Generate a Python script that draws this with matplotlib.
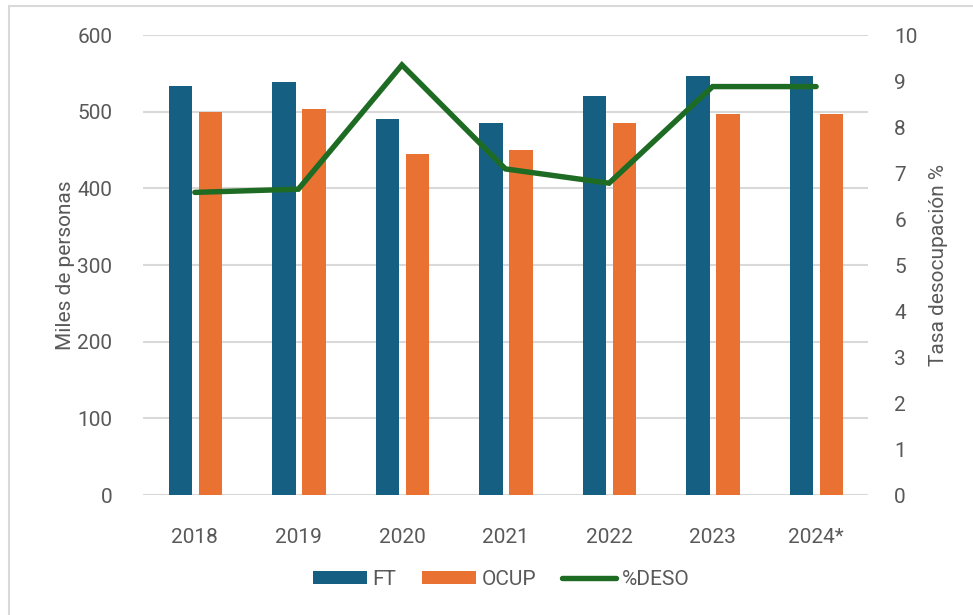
import matplotlib
matplotlib.use("Agg")
import matplotlib.pyplot as plt
import numpy as np
from matplotlib.patches import Rectangle

years = ["2018", "2019", "2020", "2021", "2022", "2023", "2024*"]
ft = [534, 539, 490, 485, 521, 546, 546]
ocup = [499, 503, 445, 450, 485, 497, 497]
deso = [6.58, 6.65, 9.35, 7.09, 6.78, 8.88, 8.88]

plt.rcParams['font.family'] = ['Roboto', 'DejaVu Sans']
gray = '#595959'
grid = '#d9d9d9'

fig = plt.figure(figsize=(9.73, 6.15), dpi=100)
ax = fig.add_axes([0.147, 0.195, 0.745, 0.748])
ax2 = ax.twinx()

x = np.arange(len(years))
w = 0.225
b1 = ax.bar(x - 0.14, ft, w, color='#156082', label='FT', zorder=2)
b2 = ax.bar(x + 0.15, ocup, w, color='#e97132', label='OCUP', zorder=2)
l1, = ax2.plot(x, deso, color='#1e6b24', lw=3.9, solid_capstyle='round',
               solid_joinstyle='miter', label='%DESO', zorder=3)

ax.set_xlim(-0.5, 6.5)
ax.set_ylim(0, 600)
ax.set_yticks(range(0, 601, 100))
ax2.set_ylim(0, 10)
ax2.set_yticks(range(0, 11))
ax.set_xticks(x)
ax.set_xticklabels(years)
ax.yaxis.grid(True, color=grid, lw=1.5, zorder=0)
ax.set_axisbelow(True)
for a in (ax, ax2):
    for s in a.spines.values():
        s.set_visible(False)
    a.tick_params(length=0, labelsize=15, colors=gray)
ax.tick_params(axis='y', pad=22)
ax2.tick_params(axis='y', pad=19)
ax.tick_params(axis='x', pad=24)
ax.set_ylabel('Miles de personas', fontsize=15, color=gray, labelpad=2)
ax2.set_ylabel('Tasa desocupación %', fontsize=15, color=gray, labelpad=8)

fig.legend([b1, b2, l1], ['FT', 'OCUP', '%DESO'], loc='center',
           bbox_to_anchor=(0.515, 0.058), ncol=3, frameon=False, fontsize=15,
           labelcolor=gray, handlelength=2.6, handleheight=0.65,
           handletextpad=0.25, columnspacing=1.25)

fig.patches.append(Rectangle((9 / 973, -0.1), 1.1, 1 - 6 / 615 + 0.1,
                             transform=fig.transFigure, fill=False,
                             edgecolor=grid, lw=1.5, zorder=-1))

fig.savefig('out.png', dpi=100)
